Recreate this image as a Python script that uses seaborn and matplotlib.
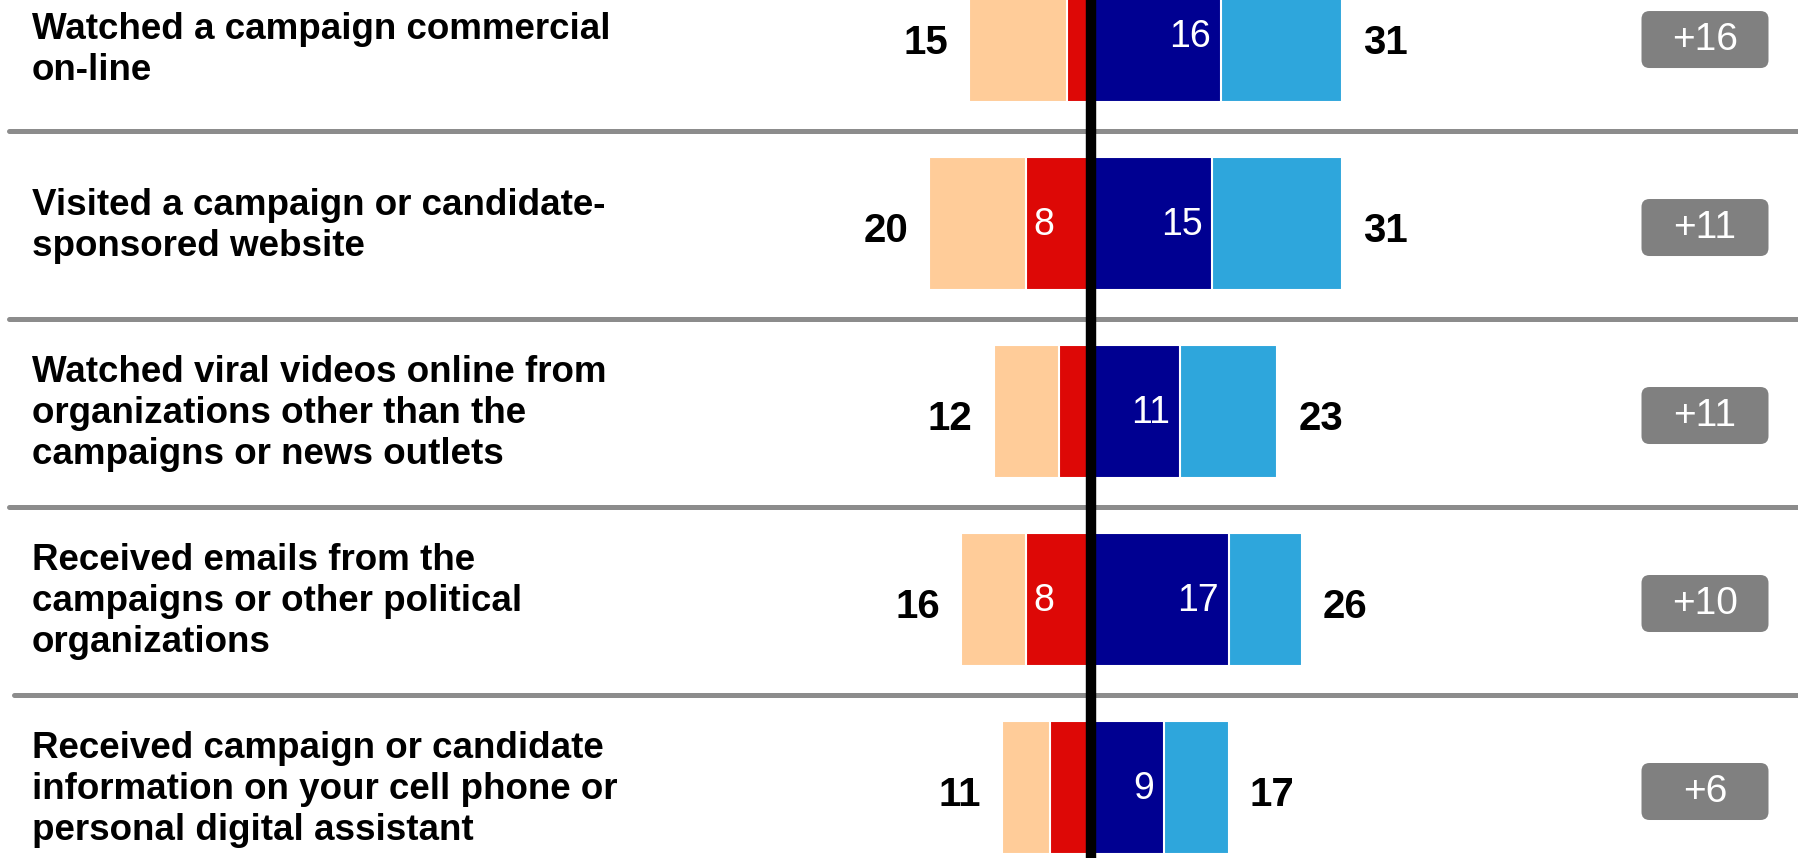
import numpy as np
import pandas as pd
import seaborn as sns
import matplotlib.pyplot as plt
from matplotlib.patches import FancyBboxPatch
from matplotlib.transforms import IdentityTransform, blended_transform_factory

# ---- data ----
activities = [
  'Watched a campaign commercial\non-line',
  'Visited a campaign or candidate-\nsponsored website',
  'Watched viral videos online from\norganizations other than the\ncampaigns or news outlets',
  'Received emails from the\ncampaigns or other political\norganizations',
  'Received campaign or candidate\ninformation on your cell phone or\npersonal digital assistant',
]
left_total = [ 15, 20, 12, 16, 11 ]
left_inner = [ 3, 8, 4, 8, 5 ]
right_inner = [ 16, 15, 11, 17, 9 ]
right_total = [ 31, 31, 23, 26, 17 ]
net_labels = [ '+16', '+11', '+11', '+10', '+6' ]

PEACH = '#FFCC99'
RED = '#DD0806'
NAVY = '#000091'
SKY = '#2EA6DC'
GRAY_BOX = '#808080'
SEP = '#8C8C8C'

sns.set_style( 'white' )
plt.rcParams[ 'font.family' ] = [ 'Liberation Sans', 'DejaVu Sans' ]
plt.rcParams[ 'text.color' ] = 'black'

df = pd.DataFrame( {
  'activity': activities,
  'left_total': [ -v for v in left_total ],
  'left_inner': [ -v for v in left_inner ],
  'right_inner': right_inner,
  'right_total': right_total,
} )

fig = plt.figure( figsize = ( 17.98, 8.58 ), dpi = 100 )
ax = fig.add_axes( [ 0, 0, 1, 1 ] )

bar_kw = dict( orient = 'h', saturation = 1, width = 0.71,
               edgecolor = 'white', linewidth = 1.5, ax = ax )
sns.barplot( data = df, x = 'right_total', y = 'activity', color = SKY, **bar_kw )
sns.barplot( data = df, x = 'right_inner', y = 'activity', color = NAVY, **bar_kw )
sns.barplot( data = df, x = 'left_total', y = 'activity', color = PEACH, **bar_kw )
sns.barplot( data = df, x = 'left_inner', y = 'activity', color = RED, **bar_kw )

ax.set_xlim( -134.7, 87.3 )
ax.set_ylim( 4.375, -0.189 )
ax.axis( 'off' )

# row separators and zero line
for i in range( len( activities ) - 1 ):
  ax.axhline( i + 0.51, xmin = 0.005 if i < 3 else 0.008, xmax = 1,
              color = SEP, lw = 3.6, zorder = 3 )
ax.axvline( 0, color = 'black', lw = 7.5, zorder = 4 )

trans_lbl = blended_transform_factory( ax.transAxes, ax.transData )
for i, name in enumerate( activities ):
  ty = i + 0.075 if i == 0 else i + 0.012
  ax.text( 0.0178, ty, name, transform = trans_lbl, ha = 'left',
           va = 'center', fontsize = 26.5, fontweight = 'bold',
           linespacing = 1.22, color = 'black' )

  ax.text( -left_total[ i ] - 2.6, i + 0.04, str( left_total[ i ] ),
           ha = 'right', va = 'center', fontsize = 29, fontweight = 'bold',
           color = 'black' )
  ax.text( right_total[ i ] + 2.6, i + 0.04, str( right_total[ i ] ),
           ha = 'left', va = 'center', fontsize = 29, fontweight = 'bold',
           color = 'black' )
  ax.text( right_inner[ i ] - 1.2, i + 0.01, str( right_inner[ i ] ),
           ha = 'right', va = 'center', fontsize = 27, color = 'white',
           zorder = 5 )
  if left_inner[ i ] >= 6:
    ax.text( -left_inner[ i ] + 0.9, i + 0.01, str( left_inner[ i ] ),
             ha = 'left', va = 'center', fontsize = 27, color = 'white',
             zorder = 5 )

# net difference boxes, fixed pixel size
box_w, box_h = 127, 57
for i, lab in enumerate( net_labels ):
  _, cy = ax.transData.transform( ( 0, i ) )
  cy -= 4
  cx = 1705
  patch = FancyBboxPatch( ( cx - box_w / 2, cy - box_h / 2 ), box_w, box_h,
                          boxstyle = 'round,pad=0,rounding_size=8',
                          transform = IdentityTransform(),
                          fc = GRAY_BOX, ec = 'none', zorder = 5 )
  fig.patches.append( patch )
  fig.text( cx, cy, lab, transform = IdentityTransform(), ha = 'center',
            va = 'center', fontsize = 28, color = 'white', zorder = 6 )

fig.savefig( 'out.png', dpi = 100 )
